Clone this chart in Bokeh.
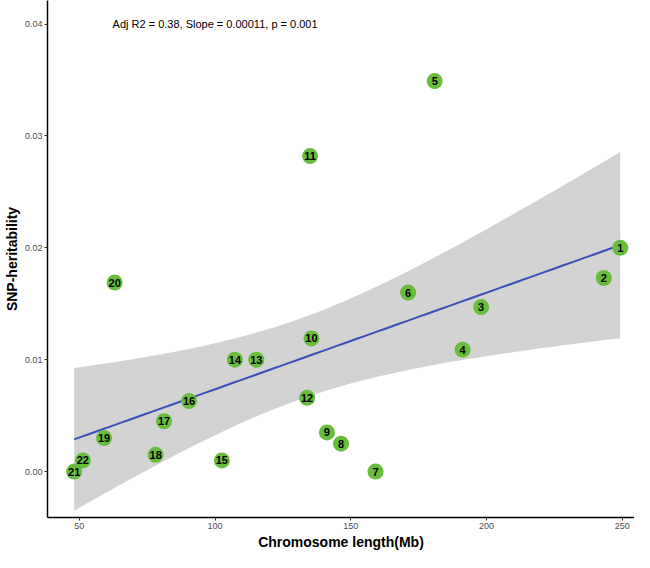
import numpy as np
from bokeh.plotting import figure
from bokeh.models import ColumnDataSource, Range1d, FixedTicker, Label
from bokeh.embed import file_html
from bokeh.resources import INLINE

chrom_labels = [str(i) for i in range(1, 23)]
chrom_length_mb = [249.25, 243.2, 198.0, 191.2, 180.9, 171.1, 159.1, 146.4, 141.2, 135.5, 135.0,
                   133.9, 115.2, 107.3, 102.5, 90.4, 81.2, 78.1, 59.1, 63.0, 48.1, 51.3]
snp_h2 = [0.0200, 0.0173, 0.0147, 0.0109, 0.0349, 0.0160, 0.0000, 0.0025, 0.0035, 0.0119, 0.0282,
          0.0066, 0.0100, 0.0100, 0.0010, 0.0063, 0.0045, 0.0015, 0.0030, 0.0169, 0.0000, 0.0010]
x_ticks = [50, 100, 150, 200, 250]
y_ticks = [0.00, 0.01, 0.02, 0.03, 0.04]
annotation = "Adj R2 = 0.38, Slope = 0.00011, p = 0.001"
x_title = "Chromosome length(Mb)"
y_title = "SNP-heritability"

x = np.array(chrom_length_mb)
y = np.array(snp_h2)
n = len(x)
b1, b0 = np.polyfit(x, y, 1)
xs = np.linspace(x.min(), x.max(), 80)
yhat = b0 + b1 * xs
resid = y - (b0 + b1 * x)
s = np.sqrt(np.sum(resid ** 2) / (n - 2))
sxx = np.sum((x - x.mean()) ** 2)
tval = 2.086  # t(0.975, df=20)
se = s * np.sqrt(1.0 / n + (xs - x.mean()) ** 2 / sxx)
lower = yhat - tval * se
upper = yhat + tval * se

p = figure(width=634, height=552, output_backend="svg", toolbar_location=None,
           x_range=Range1d(38.27, 254.5), y_range=Range1d(-0.0041, 0.0421),
           min_border_left=0, min_border_right=0, min_border_top=0, min_border_bottom=0)
p.background_fill_color = "white"
p.border_fill_color = "white"
p.outline_line_color = None
p.xgrid.visible = False
p.ygrid.visible = False

p.varea(x=xs, y1=lower, y2=upper, fill_color="#d3d3d3", fill_alpha=1.0)
p.line(xs, yhat, line_color="#3a50b8", line_width=2)

src = ColumnDataSource(dict(x=chrom_length_mb, y=snp_h2, lab=chrom_labels))
p.scatter("x", "y", source=src, size=16, fill_color="#68bd3c", line_color=None)
p.text("x", "y", text="lab", source=src, text_align="center", text_baseline="middle",
       text_font_size="11px", text_font_style="bold", text_color="black",
       text_font={"value": "Liberation Sans"})

p.add_layout(Label(x=100, y=0.04, text=annotation, text_align="center", text_baseline="middle",
                   text_font_size="11px", text_color="black", text_font="Liberation Sans"))

for ax in (p.xaxis[0], p.yaxis[0]):
    ax.axis_line_color = "black"
    ax.axis_line_width = 1.5
    ax.major_tick_line_color = "#333333"
    ax.major_tick_out = 3
    ax.major_tick_in = 0
    ax.minor_tick_line_color = None
    ax.major_label_text_font = "Liberation Sans"
    ax.major_label_text_font_size = "9px"
    ax.major_label_text_color = "#4d4d4d"
    ax.major_label_standoff = 2
    ax.axis_label_text_font = "Liberation Sans"
    ax.axis_label_text_font_size = "14px"
    ax.axis_label_text_font_style = "bold"
    ax.axis_label_text_color = "black"
    ax.axis_label_standoff = 2

p.xaxis[0].ticker = FixedTicker(ticks=x_ticks)
p.yaxis[0].ticker = FixedTicker(ticks=y_ticks)
p.yaxis[0].major_label_overrides = {0.0: "0.00", 0.01: "0.01", 0.02: "0.02", 0.03: "0.03", 0.04: "0.04"}
p.xaxis[0].axis_label = x_title
p.yaxis[0].axis_label = y_title

open("out.html", "w").write(file_html(p, INLINE))
